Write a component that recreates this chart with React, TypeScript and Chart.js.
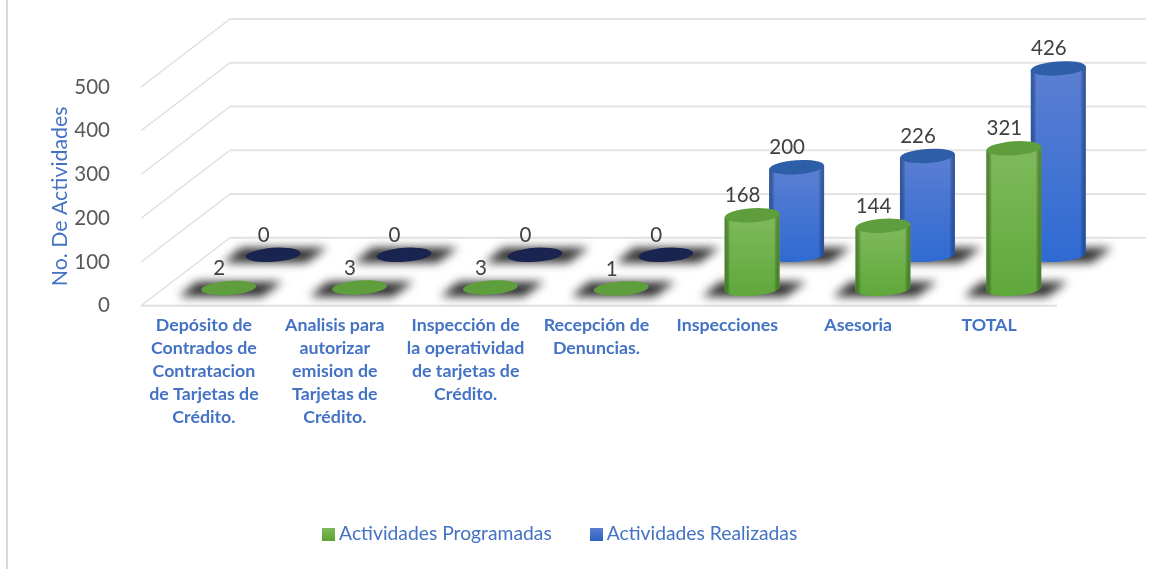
import React, { useEffect, useRef } from "react";
import { Chart, registerables } from "chart.js";

Chart.register(...registerables);

const categories: string[][] = [
  ["Depósito de", "Contrados de", "Contratacion", "de Tarjetas de", "Crédito."],
  ["Analisis para", "autorizar", "emision de", "Tarjetas de", "Crédito."],
  ["Inspección de", "la operatividad", "de tarjetas de", "Crédito."],
  ["Recepción de", "Denuncias."],
  ["Inspecciones"],
  ["Asesoria"],
  ["TOTAL"],
];
const programadas = [2, 3, 3, 1, 168, 144, 321];
const realizadas = [0, 0, 0, 0, 200, 226, 426];
const yTicks = [0, 100, 200, 300, 400, 500];
const seriesNames = ["Actividades Programadas", "Actividades Realizadas"];

const FONT = "Lato, Carlito, sans-serif";
const BLUE_TEXT = "#4472c4";
const DEPTH_X = 89;
const DEPTH_Y = -68;

function swatch(top: string, bottom: string) {
  const c = document.createElement("canvas");
  c.width = 13;
  c.height = 13;
  const x = c.getContext("2d")!;
  const g = x.createLinearGradient(0, 0, 0, 13);
  g.addColorStop(0, top);
  g.addColorStop(1, bottom);
  x.fillStyle = g;
  x.fillRect(0, 0, 13, 13);
  return c;
}

const palettes = [
  {
    depth: 0.25,
    top: "#5f9e3c",
    zero: "#5a9b3e",
    light1: "#7fba5c",
    light2: "#5fa83a",
    dark: "rgba(60,120,30,0.7)",
  },
  {
    depth: 0.75,
    top: "#2f5ea8",
    zero: "#1a2450",
    light1: "#5b7fd2",
    light2: "#2f6ad2",
    dark: "rgba(35,75,150,0.7)",
  },
];

const scene3d = {
  id: "scene3d",
  beforeDatasetsDraw(chart: any) {
    const { ctx, scales } = chart;
    const x = scales.x;
    const y = scales.y;
    ctx.save();
    // page border on the left
    ctx.fillStyle = "#d9d9d9";
    ctx.fillRect(6, 0, 2, chart.height);
    // walls and floor
    for (const v of yTicks) {
      const py = y.getPixelForValue(v);
      ctx.strokeStyle = "#e3e3e3";
      ctx.lineWidth = 2;
      ctx.beginPath();
      ctx.moveTo(x.left + DEPTH_X, py + DEPTH_Y);
      ctx.lineTo(x.right + DEPTH_X, py + DEPTH_Y);
      ctx.stroke();
      ctx.lineWidth = 1.2;
      ctx.strokeStyle = "#dcdcdc";
      ctx.beginPath();
      ctx.moveTo(x.left, py);
      ctx.lineTo(x.left + DEPTH_X, py + DEPTH_Y);
      ctx.stroke();
    }
    const floor = y.getPixelForValue(0);
    ctx.strokeStyle = "#e0e0e0";
    ctx.lineWidth = 2;
    ctx.beginPath();
    ctx.moveTo(x.left, floor);
    ctx.lineTo(x.right, floor);
    ctx.stroke();

    // back row first, then front row
    for (const di of [1, 0]) {
      const p = palettes[di];
      const meta = chart.getDatasetMeta(di);
      const dx = DEPTH_X * p.depth;
      const dy = DEPTH_Y * p.depth;
      // floor shadows
      ctx.save();
      ctx.filter = "blur(5px)";
      ctx.fillStyle = "rgba(38,38,38,0.95)";
      meta.data.forEach((bar: any) => {
        const cx = bar.x + dx;
        const cy = bar.base + dy;
        ctx.beginPath();
        ctx.moveTo(cx - 50, cy + 8);
        ctx.lineTo(cx - 32, cy - 7);
        ctx.lineTo(cx + 54, cy - 7);
        ctx.lineTo(cx + 33, cy + 8);
        ctx.closePath();
        ctx.fill();
      });
      ctx.restore();
      // cylinders
      meta.data.forEach((bar: any, i: number) => {
        const value = chart.data.datasets[di].data[i];
        const cx = bar.x + dx;
        const by = bar.base + dy;
        const ty = bar.y + dy;
        const a = 27.5;
        const b = 7;
        const tilt = (-4 * Math.PI) / 180;
        const rise = a * Math.sin(tilt);
        const h = by - ty;
        if (h > 3) {
          const gv = ctx.createLinearGradient(0, ty, 0, by + b);
          gv.addColorStop(0, p.light1);
          gv.addColorStop(1, p.light2);
          ctx.beginPath();
          ctx.moveTo(cx - a, ty - rise);
          ctx.lineTo(cx - a, by - rise);
          ctx.ellipse(cx, by, a, b, tilt, Math.PI, 0, true);
          ctx.lineTo(cx + a, ty + rise);
          ctx.closePath();
          ctx.fillStyle = gv;
          ctx.fill();
          const gh = ctx.createLinearGradient(cx - a, 0, cx + a, 0);
          gh.addColorStop(0, p.dark);
          gh.addColorStop(0.1, "rgba(0,0,0,0)");
          gh.addColorStop(0.9, "rgba(0,0,0,0)");
          gh.addColorStop(1, p.dark);
          ctx.fillStyle = gh;
          ctx.fill();
        }
        ctx.beginPath();
        ctx.ellipse(cx, ty, a, b, tilt, 0, Math.PI * 2);
        ctx.fillStyle = value === 0 ? p.zero : p.top;
        ctx.fill();
      });
    }
    ctx.restore();
  },
  afterDatasetsDraw(chart: any) {
    const { ctx } = chart;
    ctx.save();
    ctx.font = `20.5px ${FONT}`;
    ctx.fillStyle = "#404040";
    ctx.textAlign = "center";
    ctx.textBaseline = "middle";
    [1, 0].forEach((di) => {
      const p = palettes[di];
      chart.getDatasetMeta(di).data.forEach((bar: any, i: number) => {
        const value = chart.data.datasets[di].data[i];
        ctx.fillText(
          String(value),
          bar.x + DEPTH_X * p.depth - 9.5,
          bar.y + DEPTH_Y * p.depth - 19.5
        );
      });
    });
    ctx.restore();
  },
};

export default function App() {
  const ref = useRef<HTMLCanvasElement>(null);
  useEffect(() => {
    const swatches = [swatch("#7fba5c", "#5fa332"), swatch("#5b7fd2", "#2f62c4")];
    const chart = new Chart(ref.current!, {
      type: "bar",
      data: {
        labels: categories as any,
        datasets: [
          { label: seriesNames[0], data: programadas, backgroundColor: "rgba(0,0,0,0)", grouped: false } as any,
          { label: seriesNames[1], data: realizadas, backgroundColor: "rgba(0,0,0,0)", grouped: false } as any,
        ],
      },
      plugins: [scene3d],
      options: {
        responsive: false,
        animation: false,
        layout: { padding: { left: 68, right: 115, top: 87, bottom: 15.2 } },
        plugins: {
          tooltip: { enabled: false },
          legend: {
            position: "bottom",
            labels: {
              color: BLUE_TEXT,
              font: { family: FONT, size: 19.3 },
              usePointStyle: true,
              pointStyleWidth: 1.7,
              padding: 43.65,
              generateLabels: () =>
                seriesNames.map((text, i) => ({
                  text,
                  fontColor: BLUE_TEXT,
                  pointStyle: swatches[i],
                  datasetIndex: i,
                  lineWidth: 0,
                })) as any,
            },
          },
        },
        scales: {
          x: {
            grid: { display: false },
            border: { display: false },
            afterFit: (s: any) => {
              s.height = 175;
            },
            ticks: {
              color: BLUE_TEXT,
              font: { family: FONT, size: 17.8, weight: "bold", lineHeight: "23px" } as any,
              maxRotation: 0,
              minRotation: 0,
              autoSkip: false,
              padding: 0,
              labelOffset: -2.5,
            },
          },
          y: {
            min: 0,
            max: 500,
            grid: { display: false },
            border: { display: false },
            afterFit: (s: any) => {
              s.width = 73;
            },
            afterBuildTicks: (s: any) => {
              s.ticks = yTicks.map((value) => ({ value }));
            },
            title: {
              display: true,
              text: "No. De Actividades",
              color: BLUE_TEXT,
              font: { family: FONT, size: 21.3, lineHeight: "23px" } as any,
              padding: { top: -19.5, bottom: 0 },
            },
            ticks: {
              color: "#595959",
              font: { family: FONT, size: 20.5 },
              padding: 23,
            },
          },
        },
      },
    } as any);
    return () => chart.destroy();
  }, []);
  return (
    <div style={{ position: "fixed", left: 0, top: 0, width: 1172, height: 569, background: "#fff" }}>
      <canvas ref={ref} width={1172} height={569} style={{ display: "block" }} />
    </div>
  );
}
